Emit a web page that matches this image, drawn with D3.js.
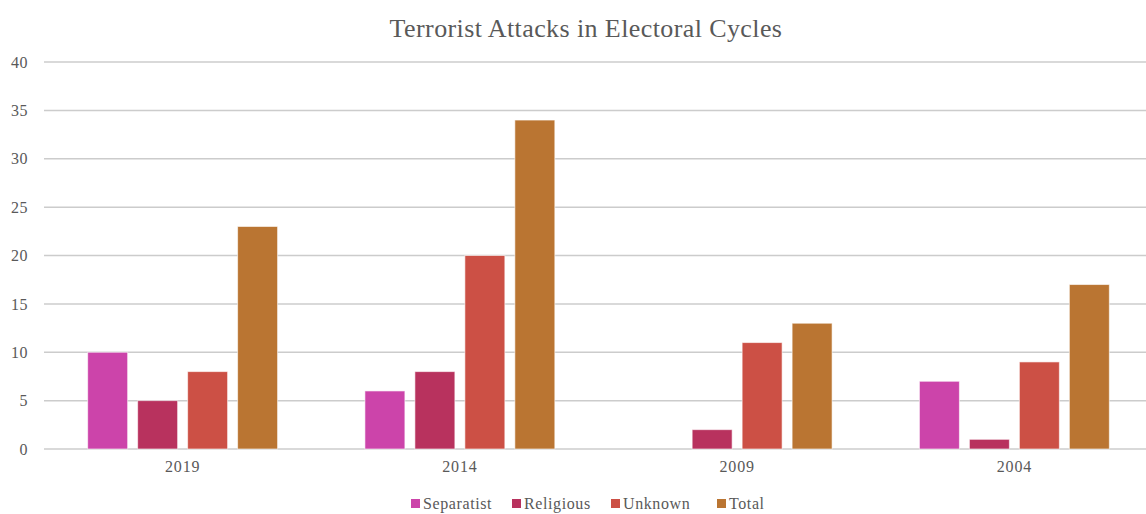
<!DOCTYPE html>
<html>
<head>
<meta charset="utf-8">
<script src="https://cdn.jsdelivr.net/npm/d3@7"></script>
<style>
  body { margin: 0; background: #fff; }
  svg text { font-family: "Liberation Serif", "DejaVu Serif", serif; fill: #595959; }
</style>
</head>
<body>
<svg id="chart" width="1146" height="514"></svg>
<script>
const cycles = ["2019", "2014", "2009", "2004"];
const seriesNames = ["Separatist", "Religious", "Unknown", "Total"];
const separatist = [10, 6, 0, 7];
const religious = [5, 8, 2, 1];
const unknown = [8, 20, 11, 9];
const total = [23, 34, 13, 17];
const yTicks = [0, 5, 10, 15, 20, 25, 30, 35, 40];
const colors = ["#CC44AA", "#B8325E", "#CC5045", "#BA7532"];

const values = [separatist, religious, unknown, total];

const margin = { top: 62, right: 0, bottom: 65, left: 44 };
const width = 1146, height = 514;
const svg = d3.select("#chart");

const x = d3.scaleBand()
    .domain(cycles)
    .range([margin.left, 1153])
    .paddingInner(0.315)
    .paddingOuter(0.1575);

const x1 = d3.scaleBand()
    .domain(seriesNames)
    .range([0, x.bandwidth()])
    .paddingInner(0.2);

const y = d3.scaleLinear()
    .domain([0, 40])
    .range([height - margin.bottom, margin.top]);

// gridlines
svg.append("g")
    .selectAll("line")
    .data(yTicks)
    .join("line")
    .attr("x1", margin.left)
    .attr("x2", width - margin.right)
    .attr("y1", d => y(d))
    .attr("y2", d => y(d))
    .attr("stroke", "#cccccc")
    .attr("stroke-width", 1.5);

// y axis labels
const yAxis = svg.append("g")
    .attr("transform", "translate(" + (margin.left - 16) + ",0)")
    .call(d3.axisLeft(y).tickValues(yTicks).tickSize(0).tickPadding(0));
yAxis.select(".domain").remove();
yAxis.selectAll("text").attr("font-size", 16).attr("letter-spacing", 0.5)
    .attr("font-family", "Liberation Serif").attr("fill", "#595959");

// x axis labels
const xAxis = svg.append("g")
    .attr("transform", "translate(0," + (y(0) + 12) + ")")
    .call(d3.axisBottom(x).tickSize(0).tickPadding(0));
xAxis.select(".domain").remove();
xAxis.selectAll("text").attr("font-size", 16).attr("letter-spacing", 0.8)
    .attr("font-family", "Liberation Serif").attr("fill", "#595959");

// bars
const groups = svg.append("g")
    .selectAll("g")
    .data(cycles)
    .join("g")
    .attr("transform", d => "translate(" + x(d) + ",0)");

groups.selectAll("rect")
    .data((d, i) => seriesNames.map((s, j) => ({ s: s, v: values[j][i], c: colors[j] })))
    .join("rect")
    .filter(d => d.v > 0)
    .attr("x", d => x1(d.s))
    .attr("width", x1.bandwidth())
    .attr("y", d => y(d.v))
    .attr("height", d => y(0) - y(d.v))
    .attr("fill", d => d.c)
    .attr("stroke", "#ffffff")
    .attr("stroke-opacity", 0.6)
    .attr("stroke-width", 1);

// title
svg.append("text")
    .attr("x", 586)
    .attr("y", 37)
    .attr("text-anchor", "middle")
    .attr("font-size", 26)
    .attr("letter-spacing", 0.4)
    .text("Terrorist Attacks in Electoral Cycles");

// legend
const legendX = [411, 512, 611, 717];
const legend = svg.append("g")
    .selectAll("g")
    .data(seriesNames)
    .join("g")
    .attr("transform", (d, i) => "translate(" + legendX[i] + ",504)");
legend.append("rect")
    .attr("x", 0)
    .attr("y", -5)
    .attr("width", 9)
    .attr("height", 9)
    .attr("fill", (d, i) => colors[i]);
legend.append("text")
    .attr("x", 12)
    .attr("y", 5)
    .attr("font-size", 16)
    .attr("letter-spacing", 0.6)
    .text(d => d);
</script>
</body>
</html>
